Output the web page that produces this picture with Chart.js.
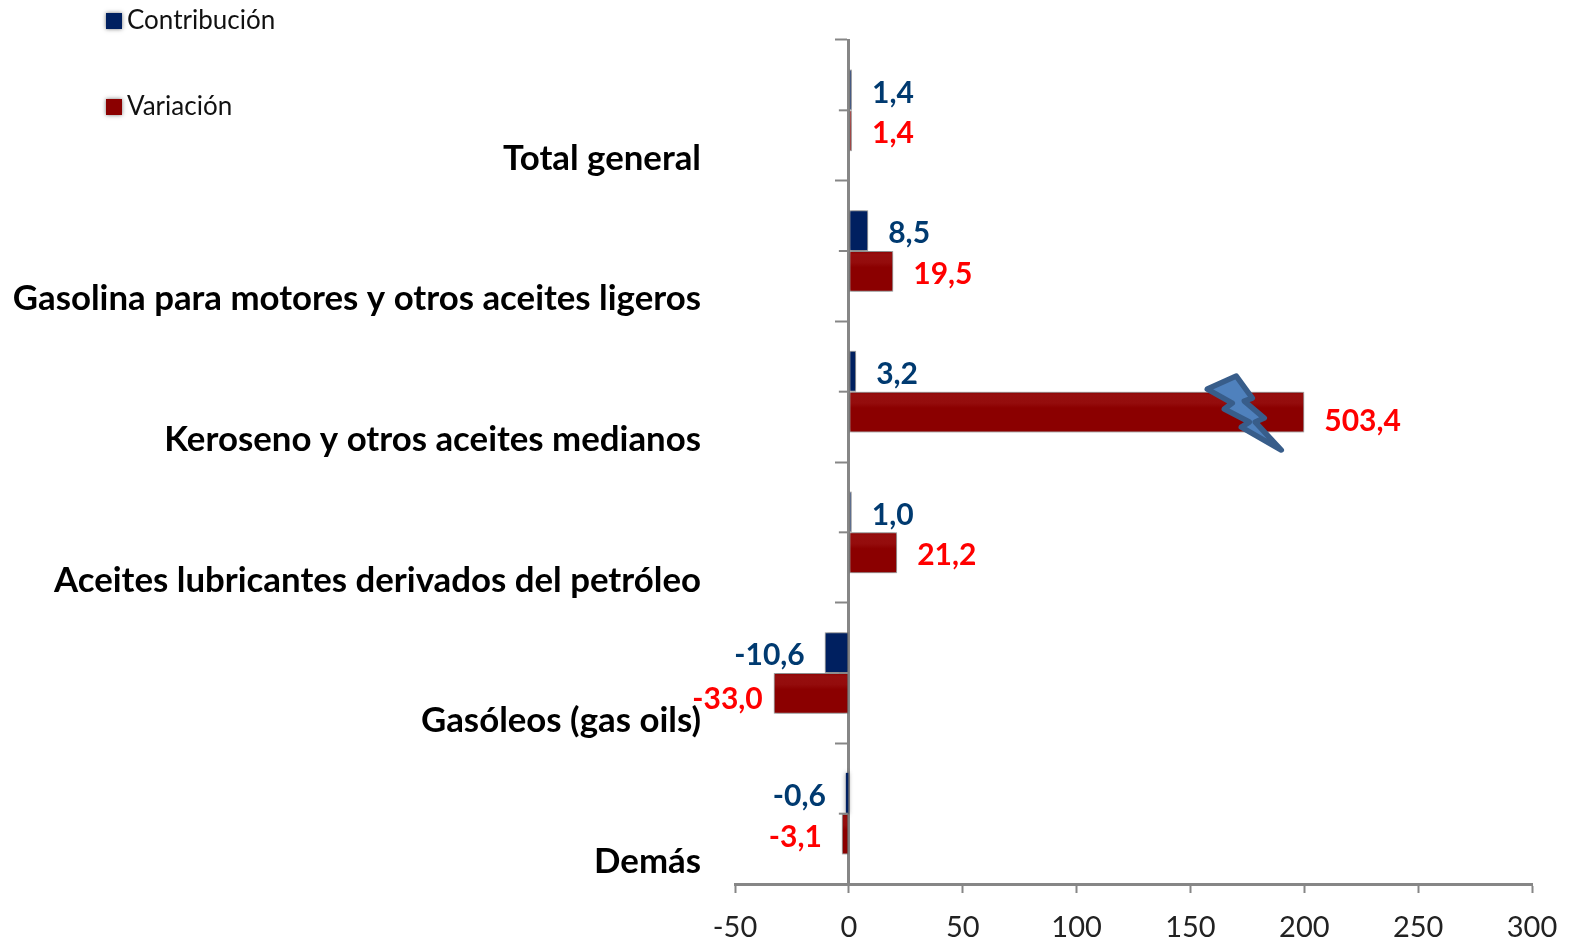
<!DOCTYPE html>
<html><head><meta charset="utf-8">
<style>html,body{margin:0;padding:0;background:#fff}#w{width:1572px;height:938px;position:relative}</style>
<script src="https://cdn.jsdelivr.net/npm/chart.js@4"></script>
</head><body><div id="w"><canvas id="c" width="1572" height="938"></canvas></div>
<script>
const categories = ['Total general','Gasolina para motores y otros aceites ligeros','Keroseno y otros aceites medianos','Aceites lubricantes derivados del petróleo','Gasóleos (gas oils)','Demás'];
const contribucion = [1.4, 8.5, 3.2, 1.0, -10.6, -0.6];
const variacion = [1.4, 19.5, 503.4, 21.2, -33.0, -3.1];
const seriesNames = ['Contribución','Variación'];
const tickValues = [-50, 0, 50, 100, 150, 200, 250, 300];
// the reference breaks the long bar at 200 and marks the break with a bolt
const breakAt = 200;
const fontFam = 'Lato, Carlito, sans-serif';
const fmt = v => v.toFixed(1).replace('.', ',');
const barColors = ['#002060', '#8b0000'];
const labelColors = ['#003a70', '#ff0000'];
const catPct = 0.58;

function redFill(ctx) {
  const s = ctx.chart.scales.y;
  if (!s || ctx.dataIndex === undefined) return barColors[1];
  const c = s.getPixelForValue(ctx.dataIndex);
  const h = Math.abs(s.getPixelForValue(1) - s.getPixelForValue(0)) * catPct / 2;
  if (!isFinite(c) || !isFinite(h) || h <= 0) return barColors[1];
  const g = ctx.chart.ctx.createLinearGradient(0, c, 0, c + h);
  g.addColorStop(0, '#8b0000'); g.addColorStop(0.08, '#960e0e');
  g.addColorStop(0.28, '#940c0c'); g.addColorStop(0.4, '#8b0000'); g.addColorStop(1, '#8b0000');
  return g;
}

const extras = {
  id: 'extras',
  beforeDatasetDraw(chart) {
    const c = chart.ctx; c.save();
    c.shadowColor = 'rgba(60,60,60,0.7)'; c.shadowBlur = 4;
  },
  afterDatasetDraw(chart) { chart.ctx.restore(); },
  afterDraw(chart) {
    const c = chart.ctx, ys = chart.scales.y;
    // short ticks at category centres
    c.save(); c.strokeStyle = '#868686'; c.lineWidth = 2;
    const x0 = chart.scales.x.getPixelForValue(0);
    categories.forEach((_, i) => { const p = ys.getPixelForValue(i);
      c.beginPath(); c.moveTo(x0 - 10, p); c.lineTo(x0 - 1, p); c.stroke(); });
    c.restore();
    // data labels
    c.save(); c.font = 'bold 30px ' + fontFam; c.textBaseline = 'middle';
    [contribucion, variacion].forEach((vals, d) => {
      const meta = chart.getDatasetMeta(d);
      vals.forEach((v, i) => {
        const el = meta.data[i];
        const tight = v === -33.0;
        c.fillStyle = labelColors[d];
        c.textAlign = v < 0 ? 'right' : 'left';
        const gap = tight ? 11 : 20;
        c.fillText(fmt(v), el.x + (v < 0 ? -gap : gap), el.y + (v > breakAt ? 9 : tight ? 6 : 3));
      });
    });
    c.restore();
    // bolt over the broken bar, anchored on the bar's end
    const tip = chart.getDatasetMeta(1).data[variacion.findIndex(v => v > breakAt)];
    const bolt = [[-97,-23],[-68,-36],[-52,-14],[-60,-11],[-40,6],[-49,10],[-23,38],[-63,15],[-55,10],[-80,-3],[-72,-9]];
    c.save(); c.beginPath();
    bolt.forEach((p, i) => { const X = tip.x + p[0], Y = tip.y + p[1]; i ? c.lineTo(X, Y) : c.moveTo(X, Y); });
    c.closePath(); c.fillStyle = '#4f81bd'; c.strokeStyle = '#385d8a'; c.lineWidth = 5.5; c.lineJoin = 'round';
    c.fill(); c.stroke(); c.restore();
    // legend
    c.save(); c.textBaseline = 'middle'; c.textAlign = 'left'; c.font = '26px ' + fontFam;
    seriesNames.forEach((n, i) => {
      const Y = 21 + i * 86;
      c.save(); c.shadowColor = 'rgba(60,60,60,0.7)'; c.shadowBlur = 4;
      c.fillStyle = barColors[i]; c.fillRect(106, Y - 8, 16, 16); c.restore();
      c.fillStyle = '#111'; c.fillText(n, 127, Y);
    });
    c.restore();
  }
};

new Chart(document.getElementById('c'), {
  type: 'bar',
  data: {
    labels: categories,
    datasets: [
      { label: seriesNames[0], data: contribucion, backgroundColor: barColors[0], minBarLength: 3,
        borderWidth: ctx => (Math.abs(contribucion[ctx.dataIndex]) < 1 ? 0 : 1) },
      { label: seriesNames[1], data: variacion.map(v => Math.min(v, breakAt)), backgroundColor: redFill }
    ]
  },
  options: {
    indexAxis: 'y', responsive: false, animation: false,
    layout: { padding: { left: 0, right: 40, top: 40, bottom: 0 } },
    datasets: { bar: { categoryPercentage: catPct, barPercentage: 1, borderWidth: 1, borderColor: 'rgba(120,120,120,0.55)', borderSkipped: false } },
    plugins: { legend: { display: false }, tooltip: { enabled: false } },
    scales: {
      x: {
        min: -50, max: 300, type: 'linear',
        afterBuildTicks(s) { s.ticks = tickValues.map(value => ({ value })); },
        afterFit(s) { s.height = 54; s.paddingLeft = s.paddingRight = 0; },
        border: { color: '#868686', width: 3 },
        grid: { drawOnChartArea: false, tickLength: 9, tickColor: '#868686', tickWidth: 2 },
        ticks: { color: '#222', font: { family: fontFam, size: 29 }, padding: 17, maxRotation: 0, autoSkip: false }
      },
      // labels only, at the left of the plot
      y: {
        afterFit(s) { s.width = 735; s.paddingTop = s.paddingBottom = 0; },
        border: { display: false },
        grid: { display: false },
        ticks: { color: '#000', font: { family: fontFam, size: 34.8, weight: 'bold' }, padding: 26, labelOffset: 48, autoSkip: false }
      },
      // axis line and ticks, crossing at zero
      yAxisLine: {
        type: 'category', axis: 'y', position: { x: 0 }, offset: true,
        afterFit(s) { s.width = 0; s.paddingTop = s.paddingBottom = 0; },
        border: { color: '#868686', width: 3 },
        grid: { drawOnChartArea: false, tickLength: 12, tickColor: '#868686', tickWidth: 2, offset: true },
        ticks: { display: false }
      }
    }
  },
  plugins: [extras]
});
</script></body></html>
